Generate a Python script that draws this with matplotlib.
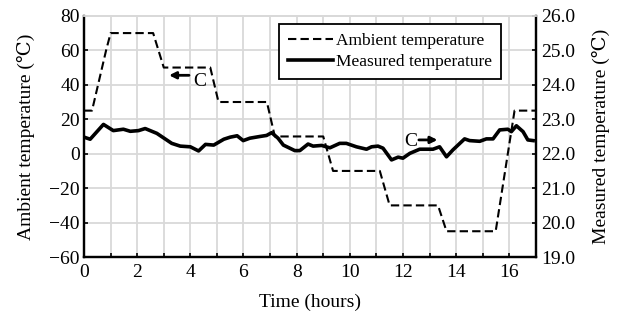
import matplotlib
matplotlib.use('Agg')
import matplotlib.pyplot as plt
from matplotlib.ticker import MultipleLocator, FormatStrFormatter

plt.rcParams['font.family'] = ['Liberation Serif', 'DejaVu Serif']
plt.rcParams['font.size'] = 14

# ambient temperature (left axis)
amb_t = [0, 0.3, 0.83, 1.0, 2.6, 3.0, 4.75, 5.06, 6.88, 7.18, 9.0, 9.37,
         11.13, 11.5, 13.32, 13.64, 15.49, 16.2, 17.0]
amb_v = [25, 25, 60, 70, 70, 50, 50, 30, 30, 10, 10, -10,
         -10, -30, -30, -45, -45, 25, 25]

# measured temperature (right axis)
meas_t = [0, 0.23, 0.73, 1.1, 1.48, 1.74, 2.05, 2.3, 2.74, 3.3, 3.62, 4.0,
          4.31, 4.57, 4.88, 5.26, 5.5, 5.76, 5.99, 6.24, 6.62, 6.87, 7.06,
          7.3, 7.5, 7.93, 8.12, 8.43, 8.62, 8.94, 9.25, 9.62, 9.87, 10.25,
          10.63, 10.82, 11.06, 11.25, 11.57, 11.82, 12.0, 12.26, 12.63,
          13.13, 13.38, 13.64, 13.88, 14.32, 14.51, 14.89, 15.14, 15.39,
          15.64, 15.95, 16.08, 16.27, 16.52, 16.7, 16.9]
meas_v = [22.48, 22.42, 22.85, 22.67, 22.71, 22.65, 22.67, 22.73, 22.59,
          22.30, 22.22, 22.20, 22.08, 22.27, 22.25, 22.42, 22.48, 22.52,
          22.38, 22.45, 22.50, 22.53, 22.61, 22.45, 22.25, 22.09, 22.09,
          22.28, 22.22, 22.24, 22.17, 22.30, 22.30, 22.20, 22.13, 22.20,
          22.22, 22.16, 21.82, 21.90, 21.87, 22.01, 22.13, 22.13, 22.20,
          21.91, 22.11, 22.43, 22.38, 22.36, 22.43, 22.43, 22.69, 22.71,
          22.64, 22.81, 22.64, 22.40, 22.38]

fig = plt.figure(figsize=(6.18, 3.17), dpi=100)
ax = fig.add_axes([0.136, 0.189, 0.731, 0.761])
ax2 = ax.twinx()

grid_c = '#d9d9d9'
ax.xaxis.set_major_locator(MultipleLocator(2))
ax.xaxis.set_minor_locator(MultipleLocator(1))
ax.yaxis.set_major_locator(MultipleLocator(20))
ax.grid(True, which='both', axis='x', color=grid_c, lw=1.3)
ax.grid(True, which='major', axis='y', color=grid_c, lw=1.3)
ax.set_axisbelow(True)

l1, = ax.plot(amb_t, amb_v, color='black', lw=1.5, ls=(0, (4, 2)),
              label='Ambient temperature')
l2, = ax2.plot(meas_t, meas_v, color='black', lw=2.6,
               label='Measured temperature')

ax.set_xlim(0, 17)
ax.set_ylim(-60, 80)
ax2.set_ylim(19, 26)
ax2.yaxis.set_major_locator(MultipleLocator(1))
ax2.yaxis.set_major_formatter(FormatStrFormatter('%.1f'))

ax.tick_params(direction='in', which='both', length=3, width=1.2, pad=3)
ax.tick_params(axis='x', pad=5)
ax2.tick_params(direction='in', length=3, width=1.2, pad=4)

for a in (ax, ax2):
    for s in ('left', 'right', 'bottom'):
        a.spines[s].set_linewidth(1.6)
    a.spines['top'].set_color(grid_c)
    a.spines['top'].set_linewidth(1.3)

ax.set_xlabel('Time (hours)', labelpad=9)
ax.set_ylabel('Ambient temperature (\u2103)', labelpad=10)
ax2.set_ylabel('Measured temperature (\u2103)', labelpad=12)

arrow = dict(arrowstyle='-|>', color='black', lw=2, mutation_scale=10,
             shrinkA=0, shrinkB=0)
ax.annotate('', xy=(3.2, 45.5), xytext=(3.95, 45.5), arrowprops=arrow)
ax.text(4.35, 42, 'C', ha='center', va='center')
ax.text(12.3, 7, 'C', ha='center', va='center')
ax.annotate('', xy=(13.3, 8), xytext=(12.6, 8), arrowprops=arrow)

leg = ax2.legend(handles=[l1, l2], loc='upper right', bbox_to_anchor=(0.923, 0.965),
                 frameon=True, fancybox=False, edgecolor='black', framealpha=1,
                 handlelength=2.6, handletextpad=0.2, borderpad=0.5,
                 labelspacing=0.3, fontsize=12.5, borderaxespad=0)
leg.get_frame().set_linewidth(1.3)

fig.savefig('out.png', dpi=100)
